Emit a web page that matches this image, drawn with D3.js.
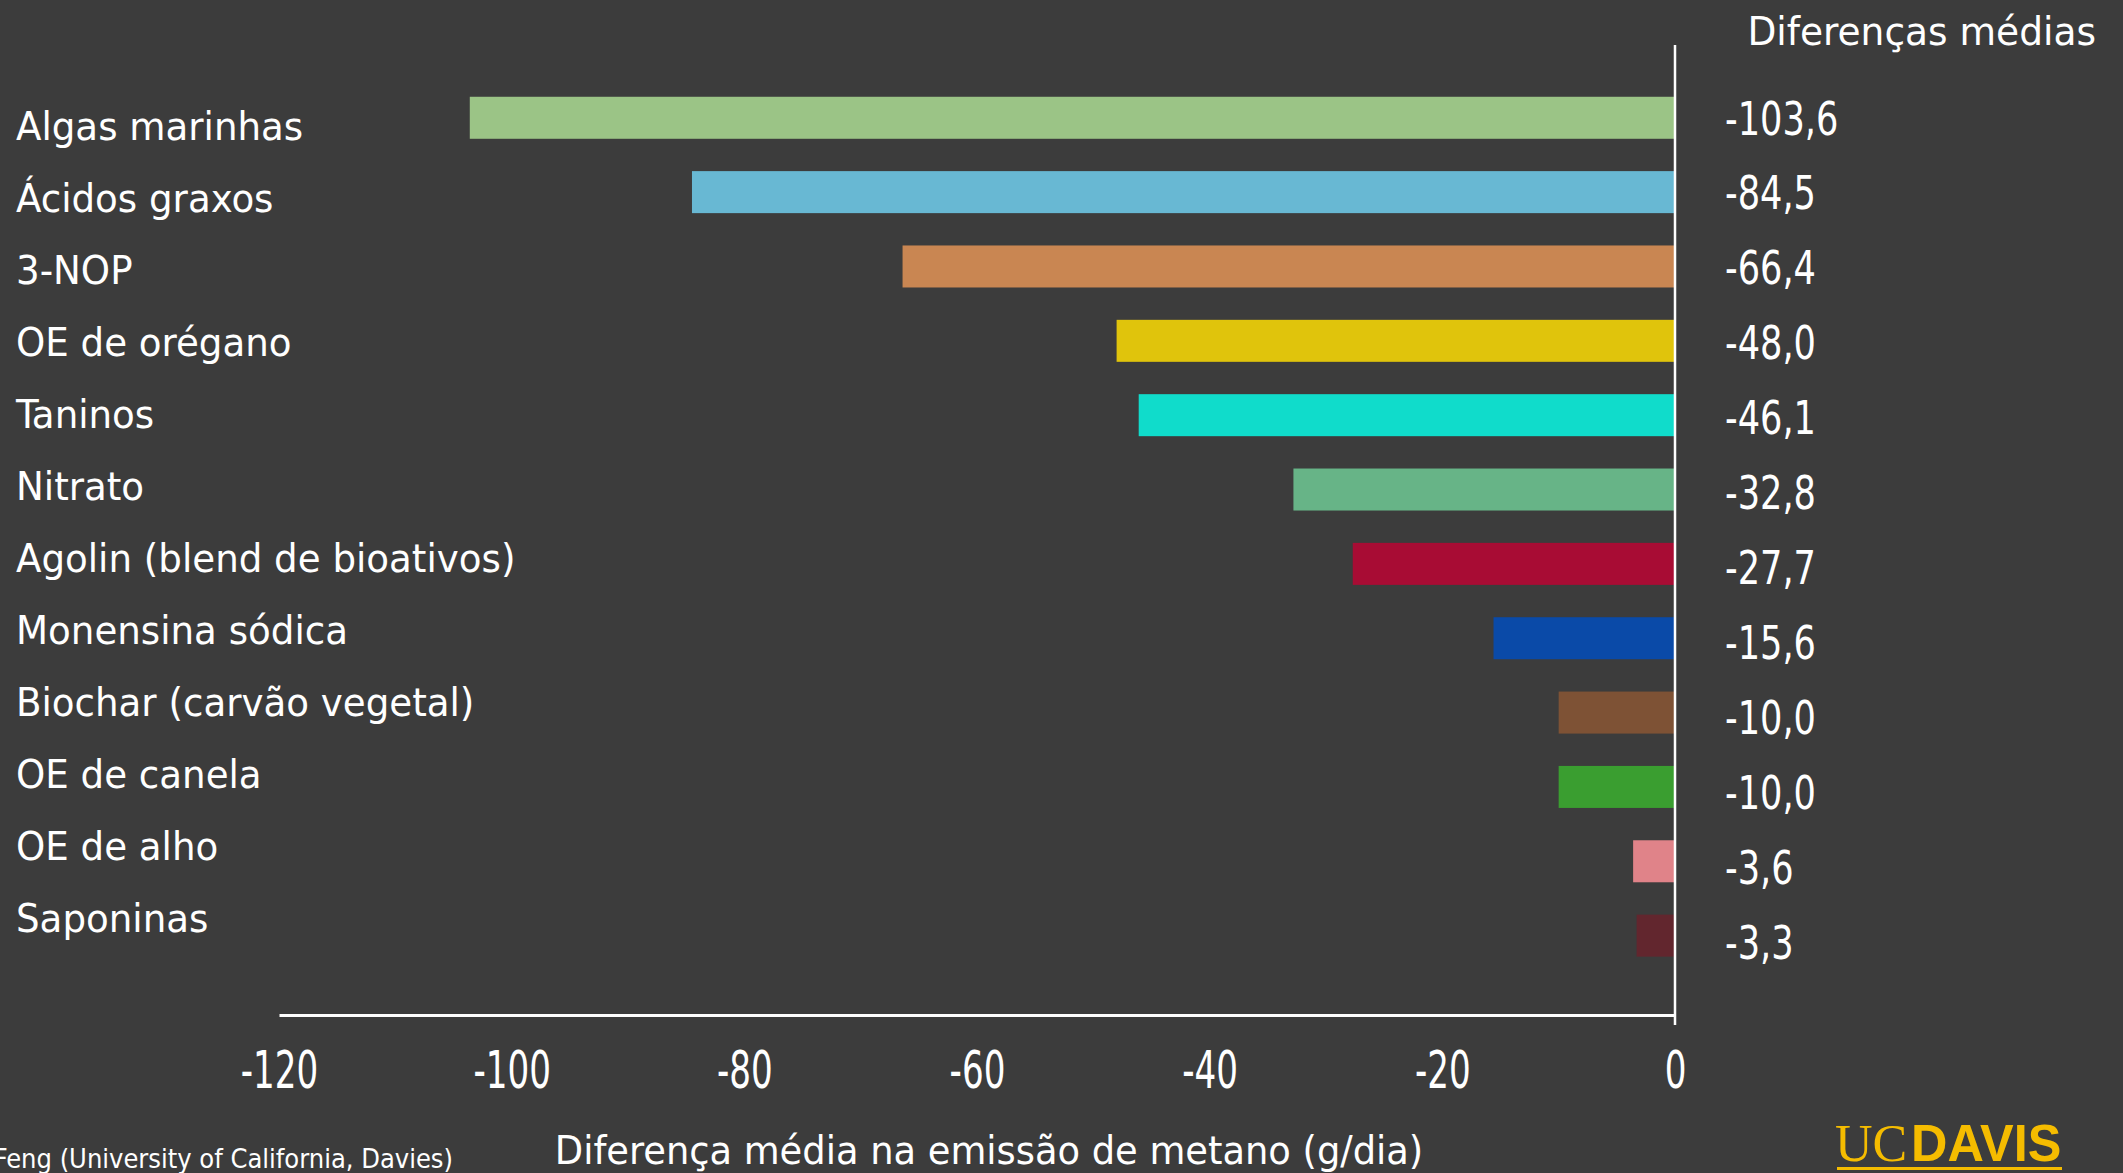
<!DOCTYPE html>
<html>
<head>
<meta charset="utf-8">
<script src="https://cdn.jsdelivr.net/npm/d3@7"></script>
<style>
  html, body { margin: 0; padding: 0; background: #3c3c3c; }
  svg { display: block; }
  text { font-family: "DejaVu Sans Condensed", "DejaVu Sans", "Roboto", sans-serif; fill: #ffffff; }
</style>
</head>
<body>
<svg id="chart" width="2123" height="1173"></svg>
<script>
const categories = ["Algas marinhas", "Ácidos graxos", "3-NOP", "OE de orégano", "Taninos", "Nitrato",
  "Agolin (blend de bioativos)", "Monensina sódica", "Biochar (carvão vegetal)", "OE de canela", "OE de alho", "Saponinas"];
const values = [-103.6, -84.5, -66.4, -48.0, -46.1, -32.8, -27.7, -15.6, -10.0, -10.0, -3.6, -3.3];
const colors = ["#9bc486", "#68b8d3", "#c98652", "#e0c40c", "#10dccb", "#67b487",
  "#a80c34", "#0a4aa8", "#7e5235", "#3a9e30", "#e08389", "#62262e"];
const xTicks = [-120, -100, -80, -60, -40, -20, 0];
const headerLabel = "Diferenças médias";
const xTitle = "Diferença média na emissão de metano (g/dia)";
const sourceText = "Feng (University of California, Davies)";

const svg = d3.select("#chart");
svg.append("rect").attr("width", 2123).attr("height", 1173).attr("fill", "#3c3c3c");

const x = d3.scaleLinear().domain([-120, 0]).range([279, 1675]);
const y = d3.scaleBand().domain(categories).range([80.6, 972.8]).paddingInner(0.435).paddingOuter(0.2175);
const yCat = d3.scalePoint().domain(categories).range([126, 918]);
const yVal = d3.scalePoint().domain(categories).range([118, 942]);

const data = categories.map((c, i) => ({ c, v: values[i], col: colors[i] }));

// bars
svg.append("g").selectAll("rect").data(data).join("rect")
  .attr("x", d => x(d.v))
  .attr("y", d => y(d.c))
  .attr("width", d => x(0) - x(d.v))
  .attr("height", y.bandwidth())
  .attr("fill", d => d.col);

// x axis
const xAxis = svg.append("g").attr("transform", "translate(0,1015)")
  .call(d3.axisBottom(x).tickValues(xTicks).tickSize(0).tickPadding(36).tickFormat(d => String(d)));
xAxis.select(".domain").attr("stroke", "#ffffff").attr("stroke-width", 3);
xAxis.selectAll(".tick text").attr("font-size", 52).attr("fill", "#fff")
  .style("font-family", '"DejaVu Sans Condensed", "DejaVu Sans", sans-serif')
  .attr("transform", "scale(0.73,1)");

// vertical zero line
svg.append("line").attr("x1", x(0)).attr("x2", x(0)).attr("y1", 45).attr("y2", 1025)
  .attr("stroke", "#ffffff").attr("stroke-width", 2.5);

// category labels
svg.append("g").selectAll("text").data(data).join("text")
  .attr("transform", d => `translate(16,${yCat(d.c)}) scale(1.06,1)`)
  .attr("dy", "0.36em")
  .attr("font-size", 39).text(d => d.c);

// value labels
svg.append("g").selectAll("text").data(data).join("text")
  .attr("transform", d => `translate(1725,${yVal(d.c)}) scale(0.85,1)`)
  .attr("dy", "0.36em")
  .attr("font-size", 46).text(d => d3.format(".1f")(d.v).replace("−", "-").replace(".", ","));

// header
svg.append("text").attr("transform", "translate(2096,31) scale(1.07,1)").attr("dy", "0.36em").attr("text-anchor", "end")
  .attr("font-size", 39).text(headerLabel);

// x title
svg.append("text").attr("transform", "translate(989,1150) scale(1.05,1)").attr("dy", "0.36em").attr("text-anchor", "middle")
  .attr("font-size", 39).text(xTitle);

// source
svg.append("text").attr("transform", "translate(453,1158) scale(1.0,1)").attr("dy", "0.36em").attr("text-anchor", "end")
  .attr("font-size", 27).text(sourceText);

// UC Davis logo
const logo = svg.append("g").attr("transform", "translate(1835,1161)");
logo.append("text").attr("x", 0).attr("y", 0).attr("font-size", 52)
  .style("font-family", '"Liberation Serif", "DejaVu Serif", serif').style("fill", "#f5bc00").text("UC");
logo.append("text").attr("transform", "translate(76,0) scale(0.97,1)").attr("font-size", 52).attr("font-weight", "bold")
  .style("font-family", '"Liberation Sans", "DejaVu Sans", sans-serif').style("fill", "#f5bc00").text("DAVIS");
logo.append("rect").attr("x", 2).attr("y", 6).attr("width", 225).attr("height", 3).attr("fill", "#f5bc00");
</script>
</body>
</html>
